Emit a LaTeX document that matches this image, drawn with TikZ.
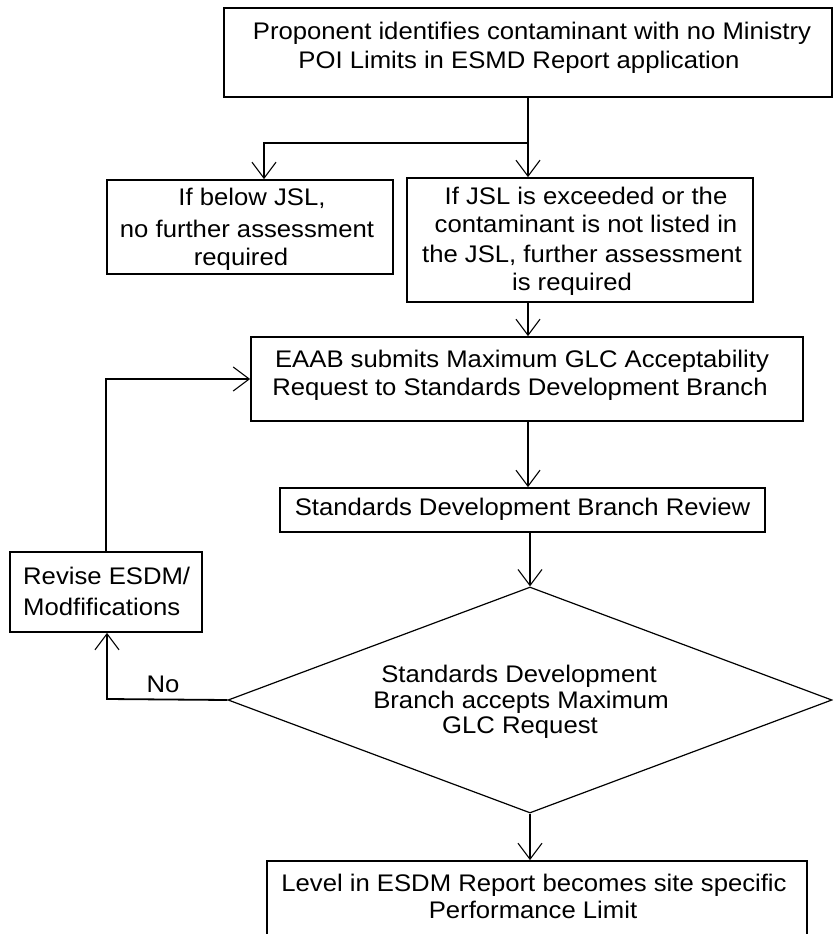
\documentclass[tikz,border=0pt]{standalone}
\usepackage{fontspec}
\setmainfont{Liberation Sans}[FakeStretch=1.07]
\usetikzlibrary{arrows.meta,fit,shapes.geometric}
\tikzset{
  box/.style={draw=black, line width=1.8pt, inner sep=0pt, rectangle},
  decbox/.style={draw=black, line width=1.2pt, diamond, inner sep=0pt},
  conn/.style={draw=black, line width=1.8pt},
  arr/.style={conn, -{Straight Barb[length=16pt,width=24pt,line width=1.1pt]}},
  txt/.style={anchor=base, inner sep=0pt, font=\fontsize{24}{28}\selectfont, text=black},
  ltxt/.style={txt, anchor=base west}
}
\begin{document}
\begin{tikzpicture}[x=1pt,y=-1pt]
\useasboundingbox (0,0) rectangle (833,934);
\clip (0,0) rectangle (833,934);
\fill[white] (0,0) rectangle (833,934);

% boxes
\node[box, fit={(224,8) (832,97)}] (b1) {};
\node[box, fit={(107,180) (393,274)}] (b2) {};
\node[box, fit={(407,178) (753,302)}] (b3) {};
\node[box, fit={(251,337) (803,421)}] (b4) {};
\node[box, fit={(280,488) (765,532)}] (b5) {};
\node[box, fit={(10,552) (202,632)}] (rev) {};
\node[decbox, minimum width=604pt, minimum height=226pt] (dec) at (530,700) {};
\node[box, fit={(267,861) (807,960)}] (b6) {};

% texts
\node[txt] (t1a) at (532,40) {Proponent identifies contaminant with no Ministry};
\node[txt] (t1b) at (519,68) {POI Limits in ESMD Report application};
\node[txt] (t2a) at (252,205) {If below JSL,};
\node[txt] (t2b) at (247,237) {no further assessment};
\node[txt] (t2c) at (241,265) {required};
\node[txt] (t3a) at (586,204) {If JSL is exceeded or the};
\node[txt] (t3b) at (586,232) {contaminant is not listed in};
\node[txt] (t3c) at (582,262) {the JSL, further assessment};
\node[txt] (t3d) at (572,290) {is required};
\node[txt] (t4a) at (522,367) {EAAB submits Maximum GLC Acceptability};
\node[txt] (t4b) at (520,395) {Request to Standards Development Branch};
\node[txt] (t5) at (522.5,515) {Standards Development Branch Review};
\node[ltxt] (tra) at (23,584) {Revise ESDM/};
\node[ltxt] (trb) at (23,615) {Modfifications};
\node[txt] (tno) at (163,692) {No};
\node[txt] (tda) at (519,682) {Standards Development};
\node[txt] (tdb) at (521,708) {Branch accepts Maximum};
\node[txt] (tdc) at (520,733) {GLC Request};
\node[txt] (t6a) at (534,891) {Level in ESDM Report becomes site specific};
\node[txt] (t6b) at (533,918) {Performance Limit};

% connectors
\coordinate (br) at (528,143);
\coordinate (brl) at (264,143);
\coordinate (nocorner) at (107,699);
\draw[conn] (b1.south -| br) -- (br);
\draw[arr] (br) -- (br |- b3.north);
\draw[arr] (br) -- (brl) -- (brl |- b2.north);
\draw[arr] (br |- b3.south) -- (br |- b4.north);
\draw[arr] (br |- b4.south) -- (br |- b5.north);
\draw[arr] (b5.south -| dec.north) -- (dec.north);
\draw[arr] (dec.west) -- (nocorner) -- (nocorner |- rev.south);
\draw[arr] (rev.north) |- (b4.west);
\draw[arr] (dec.south) -- (dec.south |- b6.north);
\end{tikzpicture}
\end{document}
